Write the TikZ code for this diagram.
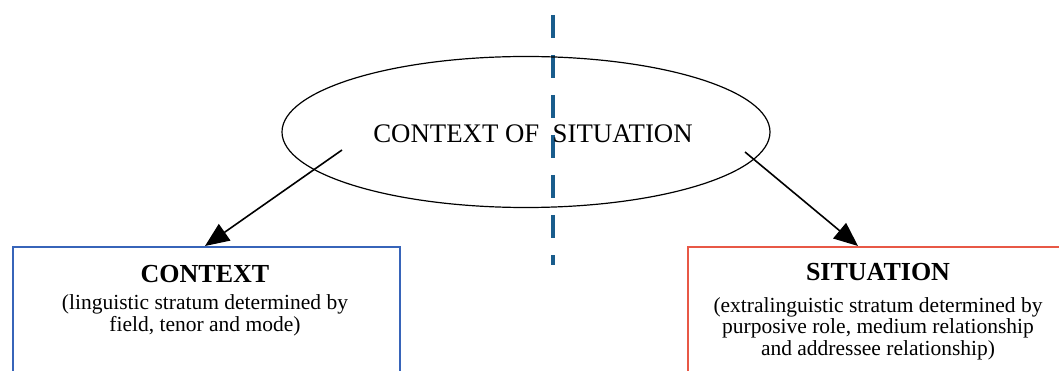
\documentclass[tikz,border=0pt]{standalone}
\usepackage{fontspec}
\setmainfont{Liberation Serif}
\usetikzlibrary{shapes.geometric,arrows.meta}
\definecolor{boxblue}{RGB}{55,100,185}
\definecolor{boxred}{RGB}{232,88,70}
\definecolor{dashblue}{RGB}{25,92,140}
\tikzset{
  connector/.style={line width=1.6pt,-{Triangle[length=24pt,width=20pt]}},
  stratum/.style={line width=2pt,minimum width=387pt,minimum height=160pt,anchor=north west},
  titletext/.style={font=\bfseries\fontsize{26}{28}\selectfont,anchor=base,inner sep=0pt},
  bodytext/.style={font=\fontsize{21.5}{21.5}\selectfont,align=center,anchor=base,inner sep=0pt},
}
\begin{document}
\begin{tikzpicture}[x=1pt,y=-1pt]
\useasboundingbox (0,0) rectangle (1059,371);
\clip (0,0) rectangle (1059,371);
\fill[white] (0,0) rectangle (1059,371);
% divider
\draw[dashblue,line width=4.5pt,dash pattern=on 23pt off 17pt] (553,15) -- (553,265);
% ellipse
\node[ellipse,draw,line width=1.2pt,minimum width=488pt,minimum height=151pt] (ell) at (526,132) {};
\node[anchor=base,font=\fontsize{26.8}{28}\selectfont,inner sep=0pt] (ellt) at (533,143) {CONTEXT OF\ \ SITUATION};
% boxes
\node[stratum,draw=boxblue] (ctx) at (12,246) {};
\node[stratum,draw=boxred,minimum width=420pt] (sit) at (687,246) {};
\node[titletext] (ctxT) at (205,282) {CONTEXT};
\node[bodytext] (ctxB) at (205,331) {(linguistic stratum determined by\\field, tenor and mode)};
\node[titletext] (sitT) at (878,280) {SITUATION};
\node[bodytext] (sitB) at (878,355) {(extralinguistic stratum determined by\\purposive role, medium relationship\\and addressee relationship)};
% arrows
\coordinate (s1) at (342,150);
\coordinate (s2) at (745,152);
\draw[connector] (s1) -- (ctx.north west -| 205,0);
\draw[connector] (s2) -- (sit.north west -| 858,0);
\end{tikzpicture}
\end{document}
